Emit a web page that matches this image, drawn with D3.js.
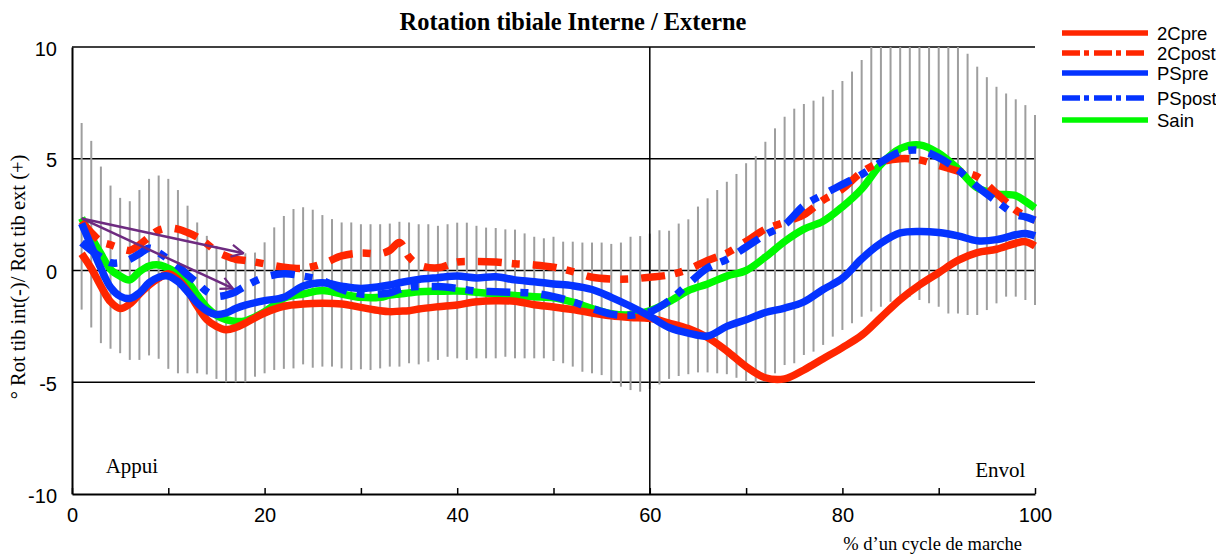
<!DOCTYPE html>
<html><head><meta charset="utf-8">
<script src="https://cdn.jsdelivr.net/npm/d3@7/dist/d3.min.js"></script>
<style>body{margin:0;background:#fff}svg{display:block}</style>
</head><body>
<svg id="chart" width="1216" height="554"></svg>
<script>
// ---------- data ----------
const title = "Rotation tibiale Interne / Externe";
const yTitle = "° Rot tib int(-)/ Rot tib ext (+)";
const xTitle = "% d’un cycle de marche";
const phaseLabels = ["Appui", "Envol"];
const yTicks = [-10, -5, 0, 5, 10];
const xTickMarks = [0, 10, 20, 30, 40, 50, 60, 70, 80, 90, 100];
const xTickLabels = [0, 20, 40, 60, 80, 100];
const yGridValues = [-5, 0, 5, 10];
const xGridValues = [60];

const seriesNames = ["2Cpre", "2Cpost", "PSpre", "PSpost", "Sain"];

const xGrid = [1,2,3,4,5,6,7,8,9,10,11,12,13,14,15,16,17,18,20,22,24,26,28,30,32,33,34,35,36,38,40,42,44,46,48,50,52,54,56,58,60,62,64,66,68,70,72,74,76,78,80,82,84,86,88,90,92,94,96,98,99,100];

const v2Cpre  = [0.75,0.1,-0.7,-1.4,-1.7,-1.5,-1.05,-0.65,-0.35,-0.15,-0.4,-0.9,-1.6,-2.2,-2.5,-2.65,-2.55,-2.35,-1.9,-1.6,-1.5,-1.47,-1.5,-1.65,-1.8,-1.84,-1.82,-1.8,-1.72,-1.62,-1.54,-1.4,-1.35,-1.38,-1.53,-1.63,-1.75,-1.9,-2.03,-2.1,-2.14,-2.35,-2.6,-3.0,-3.6,-4.3,-4.8,-4.85,-4.45,-3.95,-3.45,-2.9,-2.1,-1.3,-0.65,-0.1,0.45,0.8,0.95,1.22,1.29,1.1];
const v2Cpost = [2.2,1.7,1.3,1.15,1.0,0.9,1.15,1.5,1.8,1.9,1.85,1.7,1.5,1.2,0.85,0.65,0.5,0.45,0.3,0.15,0.1,0.3,0.65,0.78,0.75,0.9,1.25,0.6,0.25,0.12,0.38,0.4,0.38,0.3,0.25,0.15,-0.05,-0.3,-0.38,-0.38,-0.3,-0.2,0.05,0.45,0.78,1.3,1.85,2.15,2.5,3.15,3.65,4.4,4.85,5.0,4.95,4.7,4.45,4.2,3.45,2.7,2.45,2.25];
const vPSpre  = [2.1,1.1,0.1,-0.75,-1.15,-1.25,-1.0,-0.55,-0.3,-0.25,-0.5,-0.95,-1.45,-1.8,-1.97,-1.9,-1.7,-1.55,-1.35,-1.2,-0.7,-0.55,-0.7,-0.8,-0.72,-0.65,-0.55,-0.47,-0.4,-0.32,-0.25,-0.33,-0.28,-0.42,-0.5,-0.6,-0.68,-0.85,-1.2,-1.6,-2.05,-2.55,-2.8,-2.93,-2.5,-2.2,-1.88,-1.68,-1.4,-0.85,-0.35,0.52,1.22,1.68,1.75,1.7,1.55,1.33,1.38,1.6,1.66,1.55];
const vPSpost = [1.25,0.9,0.6,0.35,0.35,0.5,0.75,1.0,0.8,0.5,0.2,-0.2,-0.55,-0.95,-1.15,-1.1,-0.95,-0.7,-0.3,-0.15,-0.25,-0.45,-0.85,-1.05,-1.05,-1.0,-0.85,-0.75,-0.72,-0.72,-0.8,-0.92,-0.95,-0.98,-1.02,-1.17,-1.4,-1.7,-1.95,-2.0,-1.85,-1.35,-0.6,0.12,0.5,1.05,1.6,2.05,2.9,3.4,3.85,4.3,4.85,5.3,5.38,5.05,4.5,3.75,3.1,2.5,2.4,2.25];
const vSain   = [2.35,1.5,0.75,0.05,-0.25,-0.42,-0.05,0.2,0.25,0.1,-0.15,-0.5,-1.1,-1.65,-2.0,-2.2,-2.28,-2.25,-1.85,-1.25,-1.05,-0.9,-1.05,-1.2,-1.2,-1.1,-1.05,-1.0,-0.95,-0.93,-0.92,-0.97,-1.05,-1.12,-1.17,-1.22,-1.42,-1.7,-1.93,-1.98,-1.8,-1.4,-0.9,-0.6,-0.25,0.0,0.6,1.3,1.85,2.2,2.85,3.65,4.75,5.45,5.62,5.25,4.55,3.7,3.43,3.35,3.1,2.8];

// standard-deviation bars (one per % of cycle, 1..100)
const sdX = [1,2,3,4,5,6,7,8,9,10,11,12,13,14,15,16,17,18,19,20,21,22,23,24,25,26,27,28,29,30,31,32,33,34,35,36,37,38,39,40,41,42,43,44,45,46,47,48,49,50,51,52,53,54,55,56,57,58,59,60,61,62,63,64,65,66,67,68,69,70,71,72,73,74,75,76,77,78,79,80,81,82,83,84,85,86,87,88,89,90,91,92,93,94,95,96,97,98,99,100];
const sdTop = [6.6,5.8,4.65,3.8,3.25,3.1,3.6,4.1,4.25,4.1,3.6,2.9,2.15,1.55,1.1,0.8,0.62,0.77,0.8,1.26,1.93,2.44,2.75,2.83,2.72,2.48,2.3,2.15,2.15,2.07,2.07,2.07,2.1,2.18,2.15,2.07,2.07,2.0,2.07,2.14,2.14,2.0,1.92,1.9,1.84,1.83,1.66,1.51,1.44,1.51,1.29,1.29,1.25,1.25,1.25,1.19,1.25,1.51,1.54,1.65,1.8,1.78,2.1,2.29,2.86,3.23,3.6,3.97,4.32,4.8,5.12,5.76,6.36,6.88,7.24,7.45,7.6,7.78,8.08,8.48,8.9,9.42,10,10,10,10,10,10,10,10,10,10,9.7,9.12,8.65,8.22,7.92,7.66,7.4,6.96];
const sdBot = [-1.75,-2.55,-3.25,-3.5,-3.7,-4.0,-4.0,-3.8,-3.95,-4.4,-4.6,-4.6,-4.6,-4.65,-4.85,-5.0,-5.0,-5.0,-4.75,-4.6,-4.45,-4.4,-4.38,-4.2,-4.35,-4.3,-4.3,-4.38,-4.45,-4.42,-4.45,-4.38,-4.3,-4.3,-4.15,-4.2,-4.08,-4.0,-3.86,-3.93,-4.0,-3.93,-3.93,-3.93,-3.86,-3.93,-3.93,-3.93,-3.93,-4.05,-4.15,-4.3,-4.53,-4.6,-4.68,-5.02,-5.2,-5.35,-5.42,-5.3,-5.1,-4.85,-4.72,-4.64,-4.56,-4.56,-4.6,-4.64,-4.8,-4.97,-5.05,-4.75,-4.6,-4.23,-4.15,-3.78,-3.63,-3.33,-2.96,-2.66,-2.36,-2.07,-1.84,-1.62,-1.4,-1.17,-1.17,-1.32,-1.47,-1.62,-1.92,-1.92,-1.99,-1.99,-1.77,-1.47,-1.17,-1.17,-1.32,-1.54];

// annotation arrows (data coordinates)
const arrowStart = [1, 2.33];
const arrowEnds = [[17.8, 0.77], [16.7, -0.8]];

// ---------- drawing ----------
const colors = {"2Cpre":"#ff2600","2Cpost":"#ff2600","PSpre":"#0433ff","PSpost":"#0433ff","Sain":"#00f900"};
const dashes = {"2Cpre":null,"2Cpost":"24,10,8,13","PSpre":null,"PSpost":"24,10,8,13","Sain":null};
const values = {"2Cpre":v2Cpre,"2Cpost":v2Cpost,"PSpre":vPSpre,"PSpost":vPSpost,"Sain":vSain};

const svg = d3.select("#chart");
const L = 72, R = 1035, T = 47, B = 494;
const x = d3.scaleLinear().domain([0, 100]).range([L, R]);
const y = d3.scaleLinear().domain([-10, 10]).range([B, T]);

// grid
svg.append("g").selectAll("line").data(yGridValues).join("line")
  .attr("x1", x(0)).attr("x2", x(100))
  .attr("y1", d => y(d)).attr("y2", d => y(d))
  .attr("stroke", "#000").attr("stroke-width", 1.5);

// SD bars
svg.append("g").selectAll("line").data(sdX).join("line")
  .attr("x1", d => x(d)).attr("x2", d => x(d))
  .attr("y1", (d, i) => y(sdTop[i])).attr("y2", (d, i) => y(sdBot[i]))
  .attr("stroke", "#9e9e9e").attr("stroke-width", 2);

svg.append("g").selectAll("line").data(xGridValues).join("line")
  .attr("x1", d => x(d)).attr("x2", d => x(d))
  .attr("y1", y(10)).attr("y2", y(-10))
  .attr("stroke", "#000").attr("stroke-width", 1.5);

// series
const line = d3.line().x(d => x(d[0])).y(d => y(d[1])).curve(d3.curveCatmullRom.alpha(0.5));
const drawOrder = ["Sain", "2Cpre", "2Cpost", "PSpre", "PSpost"];
drawOrder.forEach(name => {
  const pts = xGrid.map((xv, i) => [xv, values[name][i]]);
  svg.append("path").datum(pts)
    .attr("d", line)
    .attr("fill", "none")
    .attr("stroke", colors[name])
    .attr("stroke-width", 7.5)
    .attr("stroke-linejoin", "round")
    .attr("stroke-dasharray", dashes[name]);
});

// arrows
const defs = svg.append("defs");
defs.append("marker").attr("id", "ah")
  .attr("viewBox", "0 0 14 14").attr("refX", 13).attr("refY", 7)
  .attr("markerWidth", 14).attr("markerHeight", 14)
  .attr("markerUnits", "userSpaceOnUse").attr("orient", "auto")
  .append("path").attr("d", "M1,1 L13,7 L1,13")
  .attr("fill", "none").attr("stroke", "#6e2b80").attr("stroke-width", 2.2);
svg.append("g").selectAll("line").data(arrowEnds).join("line")
  .attr("x1", x(arrowStart[0])).attr("y1", y(arrowStart[1]))
  .attr("x2", d => x(d[0])).attr("y2", d => y(d[1]))
  .attr("stroke", "#6e2b80").attr("stroke-width", 2.5)
  .attr("marker-end", "url(#ah)");

// axes
const sans = "'Liberation Sans', Arial, Helvetica, sans-serif";
const serif = "'Liberation Serif', 'Times New Roman', Times, serif";
const plainFmt = d => String(d);

const xTickAxis = svg.append("g").attr("transform", `translate(0,${B})`)
  .call(d3.axisBottom(x).tickValues(xTickMarks).tickSizeInner(-6).tickSizeOuter(0).tickFormat(""));
xTickAxis.select(".domain").attr("stroke", "#000").attr("stroke-width", 2);
xTickAxis.selectAll(".tick line").attr("stroke", "#000").attr("stroke-width", 1.5);

const xLabAxis = svg.append("g").attr("transform", `translate(0,${B})`)
  .call(d3.axisBottom(x).tickValues(xTickLabels).tickSize(0).tickPadding(14).tickFormat(plainFmt));
xLabAxis.select(".domain").remove();
xLabAxis.selectAll("text").attr("font-family", sans).attr("font-size", 20).attr("fill", "#000");

const yAxis = svg.append("g").attr("transform", `translate(${L},0)`)
  .call(d3.axisLeft(y).tickValues(yTicks).tickSize(0).tickPadding(15).tickFormat(plainFmt));
yAxis.select(".domain").attr("stroke", "#000").attr("stroke-width", 2);
yAxis.selectAll("text").attr("font-family", sans).attr("font-size", 20).attr("fill", "#000").attr("dy", "0.4em");

// texts
svg.append("text").attr("x", 573).attr("y", 30).attr("text-anchor", "middle")
  .attr("font-family", serif).attr("font-weight", "bold").attr("font-size", 24.4).text(title);
svg.append("text").attr("transform", "translate(25,277) rotate(-90)").attr("text-anchor", "middle")
  .attr("font-family", serif).attr("font-size", 20.5).text(yTitle);
svg.append("text").attr("x", 1022).attr("y", 550).attr("text-anchor", "end")
  .attr("font-family", serif).attr("font-size", 18.5).text(xTitle);
svg.append("text").attr("x", x(3.5)).attr("y", 473).attr("font-family", serif).attr("font-size", 21).text(phaseLabels[0]);
svg.append("text").attr("x", x(99)).attr("y", 477).attr("text-anchor", "end").attr("font-family", serif).attr("font-size", 21).text(phaseLabels[1]);

// legend
const legRows = [33, 53, 73, 98, 120];
const leg = svg.append("g");
seriesNames.forEach((name, i) => {
  const cy = legRows[i];
  leg.append("line").attr("x1", 1062).attr("x2", 1148).attr("y1", cy).attr("y2", cy)
    .attr("stroke", colors[name]).attr("stroke-width", 5.5)
    .attr("stroke-dasharray", dashes[name] ? "18,4,5,5" : null);
  leg.append("text").attr("x", 1157).attr("y", cy + 6.5).attr("font-family", sans)
    .attr("font-size", 18.5).text(name);
});
</script>
</body></html>
